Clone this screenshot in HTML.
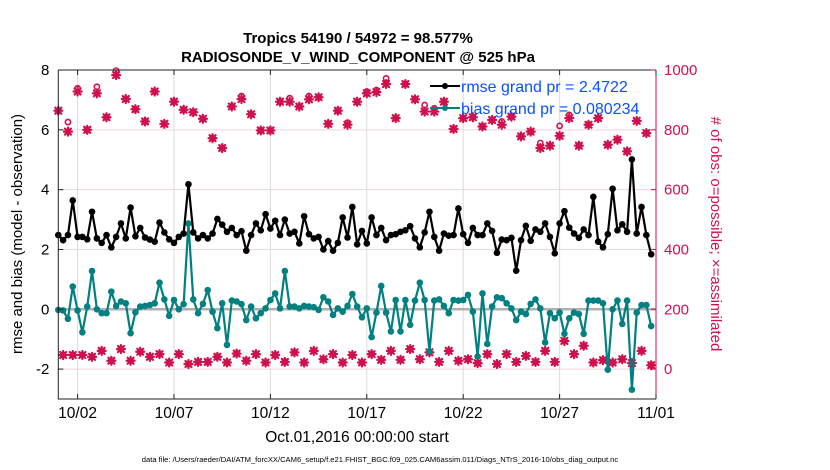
<!DOCTYPE html>
<html><head><meta charset="utf-8"><style>
body{margin:0;background:#fff;}
svg{display:block;font-family:"Liberation Sans",Arial,sans-serif;}
</style></head><body>
<svg id="chart" width="830" height="470" viewBox="0 0 830 470">
<text x="358" y="43" text-anchor="middle" font-size="15" font-weight="bold">Tropics 54190 / 54972 = 98.577%</text>
<text x="358" y="62" text-anchor="middle" font-size="15" font-weight="bold">RADIOSONDE_V_WIND_COMPONENT @ 525 hPa</text>
<g id="grid"></g>
<g id="marks"></g>
<g id="axes"></g>
<text transform="translate(22,234) rotate(-90)" text-anchor="middle" font-size="15">rmse and bias (model - observation)</text>
<text transform="translate(711,234) rotate(90)" text-anchor="middle" font-size="15" fill="#d0104c"># of obs: o=possible; ×=assimilated</text>
<text x="357" y="442" text-anchor="middle" font-size="15.5">Oct.01,2016 00:00:00 start</text>
<text x="380" y="462" text-anchor="middle" font-size="7.6">data file: /Users/raeder/DAI/ATM_forcXX/CAM6_setup/f.e21.FHIST_BGC.f09_025.CAM6assim.011/Diags_NTrS_2016-10/obs_diag_output.nc</text>
<g>
<line x1="430" y1="86" x2="460" y2="86" stroke="#000" stroke-width="2"/>
<circle cx="445" cy="86" r="3" fill="#000"/>
<text x="461" y="92" font-size="16" fill="#0a50ff">rmse grand pr = 2.4722</text>
<line x1="430" y1="108" x2="460" y2="108" stroke="#008080" stroke-width="2"/>
<circle cx="445" cy="108" r="3" fill="#008080"/>
<text x="461" y="114" font-size="16" fill="#0a50ff">bias grand pr = 0.080234</text>
</g>
</svg>
<script>
const dateTicks = ["10/02","10/07","10/12","10/17","10/22","10/27","11/01"];
const dateTickDays = [1,6,11,16,21,26,31];
const leftTicks = [-2,0,2,4,6,8];
const rightTicks = [0,200,400,600,800,1000];
const rmse = [2.48,2.31,2.48,3.64,2.42,2.42,2.34,3.26,2.37,2.22,2.48,2.07,2.42,2.87,2.37,3.4,2.44,2.72,2.4,2.33,2.26,2.9,2.57,2.34,2.22,2.42,2.53,4.18,2.57,2.37,2.48,2.37,2.53,3.02,2.83,2.59,2.72,2.48,2.61,1.96,2.48,2.87,2.64,
3.18,2.7,2.96,2.48,3.0,2.53,2.59,2.2,3.11,2.51,2.37,2.42,2.0,2.28,1.96,2.22,3.07,2.4,3.42,2.17,2.62,2.2,3.07,2.48,2.72,2.31,2.48,2.51,2.59,2.64,2.78,2.37,2.07,2.57,3.26,2.42,1.96,2.53,2.46,2.48,3.37,
2.51,2.22,2.72,2.48,2.48,2.87,2.62,1.89,2.33,2.31,2.39,1.29,2.31,2.79,2.29,2.67,2.59,2.87,2.42,1.87,2.87,3.28,2.73,2.53,2.39,2.67,2.48,3.76,2.26,2.07,2.51,4.03,2.64,2.84,2.59,5.01,2.53,3.42,2.48,1.84];
const bias = [-0.02,-0.04,-0.32,0.76,-0.04,-0.77,0.09,1.28,0,-0.13,-0.13,0.59,0.11,0.26,0.2,-0.8,-0.1,0.09,0.11,0.14,0.2,0.89,0.33,-0.22,0.31,0,0.17,2.87,0.33,-0.13,0.18,0.64,-0.08,-0.63,0.2,-1.19,0.29,0.26,0.17,-0.36,0.09,-0.3,-0.13,
0.03,0.31,0.53,0.03,1.28,0.09,0.09,0.03,0.11,0.09,0.07,-0.02,0.4,0.26,-0.19,0.03,-0.08,0.11,0.51,0.09,-0.27,0.03,-0.93,-0.11,0.78,-0.11,-0.74,0.31,-0.74,0.31,-0.52,0.29,0.89,0.31,-1.41,0.29,0.33,0.11,-0.13,0.31,0.29,
0.31,0.48,-0.08,-1.58,0.53,-1.16,0.09,0.4,0.37,0.2,0.03,-0.36,-0.08,-0.16,0.18,0.33,0.03,-1.11,-0.13,-0.3,-0.11,-0.82,-0.3,-0.11,-0.16,-0.82,0.29,0.29,0.29,0.2,-2.02,0,0.29,-0.49,0.29,-2.69,-0.11,0.14,0.14,-0.56];
const assimilated = [864,47,794,47,928,47,800,41,922,61,842,28,983,67,903,28,869,58,828,41,928,50,820,22,894,50,867,17,859,24,837,24,772,41,739,22,878,52,903,28,852,50,798,
22,798,47,894,24,894,56,878,22,902,61,909,33,820,50,864,22,817,47,894,22,922,50,926,31,953,61,839,31,953,67,902,33,861,56,861,24,894,61,803,28,
839,33,842,20,811,50,833,17,817,50,844,24,778,44,794,24,739,61,747,24,780,94,839,50,747,78,817,22,839,30,750,22,767,33,728,20,830,61,789,13];
const possible = [864,47,826,47,939,47,800,41,944,61,842,28,998,67,903,28,869,58,828,41,928,50,820,22,894,50,867,17,859,24,837,24,772,41,739,22,878,52,913,28,852,50,798,
22,798,47,894,24,906,56,878,22,913,61,909,33,820,50,864,22,824,47,894,22,928,50,933,31,972,61,839,31,953,67,902,33,883,56,872,24,894,61,803,28,
839,33,842,20,811,50,833,17,828,50,844,24,778,44,794,24,756,61,747,24,813,94,850,50,747,78,817,22,839,30,750,22,767,33,728,20,830,61,789,13];

const NS="http://www.w3.org/2000/svg";
const L=58.3,R=656,T=70,B=399;
const X=d=>L+d*(R-L)/31;
const Y=v=>T+(8-v)*(B-T)/11;
const Y2=v=>T+(1000-v)*(Y(-2)-T)/1000;
function mk(tag,attrs,parent){const e=document.createElementNS(NS,tag);for(const k in attrs)e.setAttribute(k,attrs[k]);parent.appendChild(e);return e;}
const grid=document.getElementById('grid'),marks=document.getElementById('marks'),axes=document.getElementById('axes');
const pink="#d0104c";
dateTickDays.forEach((d,i)=>{
  const g=mk('line',{x1:X(d),x2:X(d),y1:T,y2:B,stroke:'#dcdcdc','stroke-width':1},grid);
  
  
});
leftTicks.forEach(v=>{
  if(v===0||v===8)return;
  const g=mk('line',{x1:L,x2:R,y1:Y(v),y2:Y(v),stroke:'#f2d3de','stroke-width':1},grid);
  
  
});
const zl=mk('line',{x1:L,x2:R,y1:Y(0),y2:Y(0),stroke:'#b0b0b0','stroke-width':2.5},grid);


function star(cx,cy,parent){
  const g=mk('g',{stroke:pink,'stroke-width':2.2,'stroke-linecap':'round'},parent);
  
  
  const r=4;
  mk('line',{x1:cx-r,y1:cy,x2:cx+r,y2:cy},g);
  mk('line',{x1:cx,y1:cy-r,x2:cx,y2:cy+r},g);
  mk('line',{x1:cx-3,y1:cy-3,x2:cx+3,y2:cy+3},g);
  mk('line',{x1:cx-3,y1:cy+3,x2:cx+3,y2:cy-3},g);
  mk('circle',{cx:cx,cy:cy,r:2.5,fill:pink,stroke:'none'},g);
}
assimilated.forEach((v,i)=>{
  const x=X(i*0.25);
  const c=mk('circle',{cx:x,cy:Y2(possible[i]),r:2.6,fill:'none',stroke:pink,'stroke-width':1.6},marks);
  
  
  star(x,Y2(v),marks);
});
function series(arr,color,name){
  const p=mk('polyline',{points:arr.map((v,i)=>X(i*0.25)+','+Y(v)).join(' '),fill:'none',stroke:color,'stroke-width':2.2,'stroke-linejoin':'round'},marks);
  
  
  arr.forEach((v,i)=>{
    const c=mk('circle',{cx:X(i*0.25),cy:Y(v),r:3.3,fill:color},marks);
    
    
  });
}
series(bias,'#008080','bias');
series(rmse,'#000000','rmse');
const lax=mk('path',{d:`M${L},${T}V${B}H${R}`,fill:'none',stroke:'#222','stroke-width':1},axes);


const tax=mk('line',{x1:L,x2:R,y1:T,y2:T,stroke:'#222','stroke-width':1},axes);


const rax=mk('line',{x1:R,x2:R,y1:T,y2:B,stroke:pink,'stroke-width':1},axes);


leftTicks.forEach(v=>{
  mk('line',{x1:L,x2:L+5,y1:Y(v),y2:Y(v),stroke:'#222'},axes);
  const t=mk('text',{x:L-9,y:Y(v)+5,'text-anchor':'end','font-size':15},axes);
  t.textContent=v;
  
  
});
rightTicks.forEach(v=>{
  mk('line',{x1:R-5,x2:R,y1:Y2(v),y2:Y2(v),stroke:pink},axes);
  const t=mk('text',{x:R+8,y:Y2(v)+5,'font-size':15,fill:pink},axes);
  t.textContent=v;
  
  
});
dateTicks.forEach((s,i)=>{
  const x=X(dateTickDays[i]);
  mk('line',{x1:x,x2:x,y1:B,y2:B-5,stroke:'#222'},axes);
  mk('line',{x1:x,x2:x,y1:T,y2:T+5,stroke:'#222'},axes);
  const t=mk('text',{x:x,y:B+19,'text-anchor':'middle','font-size':15.5},axes);
  t.textContent=s;
  
  
});
</script>
</body></html>
